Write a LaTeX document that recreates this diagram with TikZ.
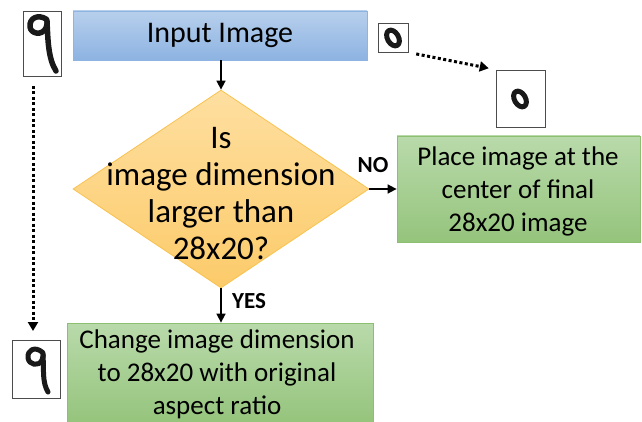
\documentclass[tikz,border=0pt]{standalone}
\usepackage{fontspec}
\setmainfont{Carlito}
\usetikzlibrary{shapes.geometric,arrows.meta}
\definecolor{blueTop}{HTML}{B7CFEC}
\definecolor{blueBot}{HTML}{8DB3E2}
\definecolor{blueEdge}{HTML}{8EB4E3}
\definecolor{greenTop}{HTML}{B9DAAB}
\definecolor{greenBot}{HTML}{95C47C}
\definecolor{greenEdge}{HTML}{8CBF6F}
\definecolor{orTop}{HTML}{FEDFA0}
\definecolor{orBot}{HTML}{FCCB6A}
\definecolor{orEdge}{HTML}{F8C24E}
\tikzset{
  mainfont/.style={font=\fontsize{27}{33}\selectfont, align=center, text=black},
  decfont/.style={font=\fontsize{33}{37}\selectfont, align=center, text=black},
  bluebox/.style={rectangle, draw=blueEdge, line width=0.8pt, top color=blueTop, bottom color=blueBot, inner sep=0pt},
  greenbox/.style={rectangle, draw=greenEdge, line width=0.8pt, top color=greenTop, bottom color=greenBot, inner sep=0pt},
  decbox/.style={diamond, draw=orEdge, line width=0.8pt, top color=orTop, bottom color=orBot, inner sep=0pt},
  imgbox/.style={rectangle, draw=black!70, line width=0.8pt, fill=white, inner sep=0pt},
  flow/.style={-{Triangle[length=9pt,width=9pt]}, line width=1.6pt},
  dotflow/.style={-{Triangle[length=9pt,width=10pt]}, line width=3pt, dash pattern=on 3pt off 2.5pt},
  lbl/.style={font=\fontsize{23}{26}\selectfont\bfseries},
  digit/.style={line width=5.5pt, line cap=round, line join=round, black!90}
}
\begin{document}
\begin{tikzpicture}[x=1pt,y=-1pt]
\useasboundingbox (0,0) rectangle (642,422);
% main boxes
\node[bluebox, minimum width=294pt, minimum height=49pt] (input) at (220,35.5) {};
\node[mainfont, font=\fontsize{30}{33}\selectfont] at (input) {Input Image};
\node[decbox, minimum width=296pt, minimum height=198pt] (dec) at (221,189) {};
\node[decfont] (dectext) at (221,194) {Is\\image dimension\\larger than\\28x20?};
\node[greenbox, minimum width=243pt, minimum height=106pt] (place) at (518.5,189) {};
\node[mainfont] at (518,191) {Place image at the\\center of final\\28x20 image};
\node[greenbox, minimum width=306pt, minimum height=100pt] (change) at (220,373) {};
\node[mainfont] at (217,374) {Change image dimension\\to 28x20 with original\\aspect ratio};
% connectors
\draw[flow] (input.south -| dec.north) -- (dec.north);
\draw[flow] (dec.east) -- (place.west);
\draw[flow] (dec.south) -- (change.north -| dec.south);
\node[lbl] (no) at (373,165) {NO};
\node[lbl] (yes) at (249,301) {YES};
% digit images
\node[imgbox, minimum width=38pt, minimum height=65pt] (nineA) at (42,43.5) {};
\draw[digit] (46,19) .. controls (38,14) and (29,18) .. (30,27) .. controls (31,34) and (42,36) .. (46,28) .. controls (48,23) and (47,19) .. (46,19);
\draw[digit] (47,22) .. controls (48,40) and (48,58) .. (56,71);
\node[imgbox, minimum width=48pt, minimum height=58pt] (nineB) at (36,369) {};
\draw[digit, line width=5pt] (42,352) .. controls (35,346) and (27,350) .. (28,358) .. controls (29,365) and (39,367) .. (42,360) .. controls (44,355) and (43,352) .. (42,352);
\draw[digit, line width=5pt] (43,355) .. controls (44,370) and (42,382) .. (48,392);
\node[imgbox, minimum width=30pt, minimum height=29pt] (zeroA) at (393,37.5) {};
\draw[digit, line width=5pt, rotate around={-60:(393,38)}] (393,38) ellipse (8.5pt and 5.5pt);
\node[imgbox, minimum width=49pt, minimum height=57pt] (zeroB) at (520.5,98.5) {};
\draw[digit, line width=5pt, rotate around={-60:(520,99)}] (520,99) ellipse (8.5pt and 5.5pt);
\coordinate (dA) at (33,86);
\coordinate (dB) at (33,331);
\draw[dotflow] (dA) -- (dB);
\draw[dotflow, shorten <=8pt, shorten >=7pt] (zeroA.south east) -- (zeroB.north west);
\end{tikzpicture}
\end{document}
